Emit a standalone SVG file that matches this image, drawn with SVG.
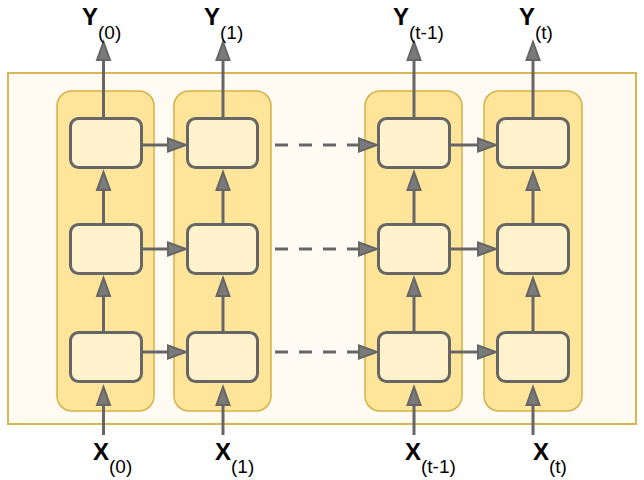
<svg xmlns="http://www.w3.org/2000/svg" width="644" height="480" viewBox="0 0 644 480">
  <style>
    .outer { fill: #fffaf2; stroke: #d6b656; stroke-width: 2; }
    .col { fill: #ffe599; stroke: #d6b04a; stroke-width: 1.5; }
    .cell { fill: #fff2cc; stroke: #666666; stroke-width: 3; }
    .conn { fill: none; stroke: #666666; stroke-width: 3; marker-end: url(#ah); }
    .dash { stroke-dasharray: 13 11; }
    .lbl { font-family: "Liberation Sans", Arial, sans-serif; font-size: 24px; font-weight: bold; fill: #000000; }
    .sub { font-size: 19px; font-weight: normal; }
  </style>
  <defs>
    <marker id="ah" markerUnits="userSpaceOnUse" viewBox="-2 -2 24 18" markerWidth="24" markerHeight="18" refX="6" refY="7" orient="auto">
      <path d="M0,0.5 L18,7 L0,13.5 Z" fill="#7a7a7a" stroke="#666666" stroke-width="2" stroke-linejoin="miter"/>
    </marker>
  </defs>

  <g id="container">
    <rect class="outer" x="8" y="73" width="628" height="351"/>
  </g>

  <g id="column-0"><rect class="col" x="57" y="91" width="97" height="320" rx="15"/></g>
  <g id="column-1"><rect class="col" x="174" y="91" width="97" height="320" rx="15"/></g>
  <g id="column-t-1"><rect class="col" x="365" y="91" width="97" height="320" rx="15"/></g>
  <g id="column-t"><rect class="col" x="484" y="91" width="98" height="320" rx="15"/></g>

  <g id="cell-0-top"><rect class="cell" x="70.5" y="118.5" width="71" height="49" rx="8"/></g>
  <g id="cell-0-mid"><rect class="cell" x="70.5" y="224.5" width="71" height="49" rx="8"/></g>
  <g id="cell-0-bot"><rect class="cell" x="70.5" y="332.5" width="71" height="49" rx="8"/></g>

  <g id="cell-1-top"><rect class="cell" x="187.5" y="118.5" width="70" height="49" rx="8"/></g>
  <g id="cell-1-mid"><rect class="cell" x="187.5" y="224.5" width="70" height="49" rx="8"/></g>
  <g id="cell-1-bot"><rect class="cell" x="187.5" y="332.5" width="70" height="49" rx="8"/></g>

  <g id="cell-t-1-top"><rect class="cell" x="378.5" y="118.5" width="71" height="49" rx="8"/></g>
  <g id="cell-t-1-mid"><rect class="cell" x="378.5" y="224.5" width="71" height="49" rx="8"/></g>
  <g id="cell-t-1-bot"><rect class="cell" x="378.5" y="332.5" width="71" height="49" rx="8"/></g>

  <g id="cell-t-top"><rect class="cell" x="497.5" y="118.5" width="71" height="49" rx="8"/></g>
  <g id="cell-t-mid"><rect class="cell" x="497.5" y="224.5" width="71" height="49" rx="8"/></g>
  <g id="cell-t-bot"><rect class="cell" x="497.5" y="332.5" width="71" height="49" rx="8"/></g>

  <g id="connectors">
    <!-- outputs Y -->
    <line class="conn" x1="103.5" y1="117" x2="103.5" y2="54"/>
    <line class="conn" x1="223" y1="117" x2="223" y2="54"/>
    <line class="conn" x1="414" y1="117" x2="414" y2="54"/>
    <line class="conn" x1="533" y1="117" x2="533" y2="54"/>
    <!-- mid to top -->
    <line class="conn" x1="103.5" y1="223" x2="103.5" y2="184"/>
    <line class="conn" x1="223" y1="223" x2="223" y2="184"/>
    <line class="conn" x1="414" y1="223" x2="414" y2="184"/>
    <line class="conn" x1="533" y1="223" x2="533" y2="184"/>
    <!-- bottom to mid -->
    <line class="conn" x1="103.5" y1="331" x2="103.5" y2="290"/>
    <line class="conn" x1="223" y1="331" x2="223" y2="290"/>
    <line class="conn" x1="414" y1="331" x2="414" y2="290"/>
    <line class="conn" x1="533" y1="331" x2="533" y2="290"/>
    <!-- inputs X -->
    <line class="conn" x1="103.5" y1="435" x2="103.5" y2="399"/>
    <line class="conn" x1="223" y1="435" x2="223" y2="399"/>
    <line class="conn" x1="414" y1="435" x2="414" y2="399"/>
    <line class="conn" x1="533" y1="435" x2="533" y2="399"/>
    <!-- horizontal solid -->
    <line class="conn" x1="143" y1="145" x2="174" y2="145"/>
    <line class="conn" x1="143" y1="249" x2="174" y2="249"/>
    <line class="conn" x1="143" y1="352" x2="174" y2="352"/>
    <line class="conn" x1="450" y1="145" x2="484" y2="145"/>
    <line class="conn" x1="450" y1="249" x2="484" y2="249"/>
    <line class="conn" x1="450" y1="352" x2="484" y2="352"/>
    <!-- horizontal dashed -->
    <line class="conn dash" x1="275" y1="145" x2="365" y2="145"/>
    <line class="conn dash" x1="275" y1="249" x2="365" y2="249"/>
    <line class="conn dash" x1="275" y1="352" x2="365" y2="352"/>
  </g>

  <g id="labels">
    <text class="lbl" x="82" y="25">Y<tspan class="sub" dy="14">(0)</tspan></text>
    <text class="lbl" x="204" y="25">Y<tspan class="sub" dy="14">(1)</tspan></text>
    <text class="lbl" x="393" y="25">Y<tspan class="sub" dy="14">(t-1)</tspan></text>
    <text class="lbl" x="519" y="25">Y<tspan class="sub" dy="14">(t)</tspan></text>
    <text class="lbl" x="93" y="460">X<tspan class="sub" dy="13">(0)</tspan></text>
    <text class="lbl" x="215" y="460">X<tspan class="sub" dy="13">(1)</tspan></text>
    <text class="lbl" x="405" y="460">X<tspan class="sub" dy="13">(t-1)</tspan></text>
    <text class="lbl" x="533" y="460">X<tspan class="sub" dy="13">(t)</tspan></text>
  </g>
</svg>
